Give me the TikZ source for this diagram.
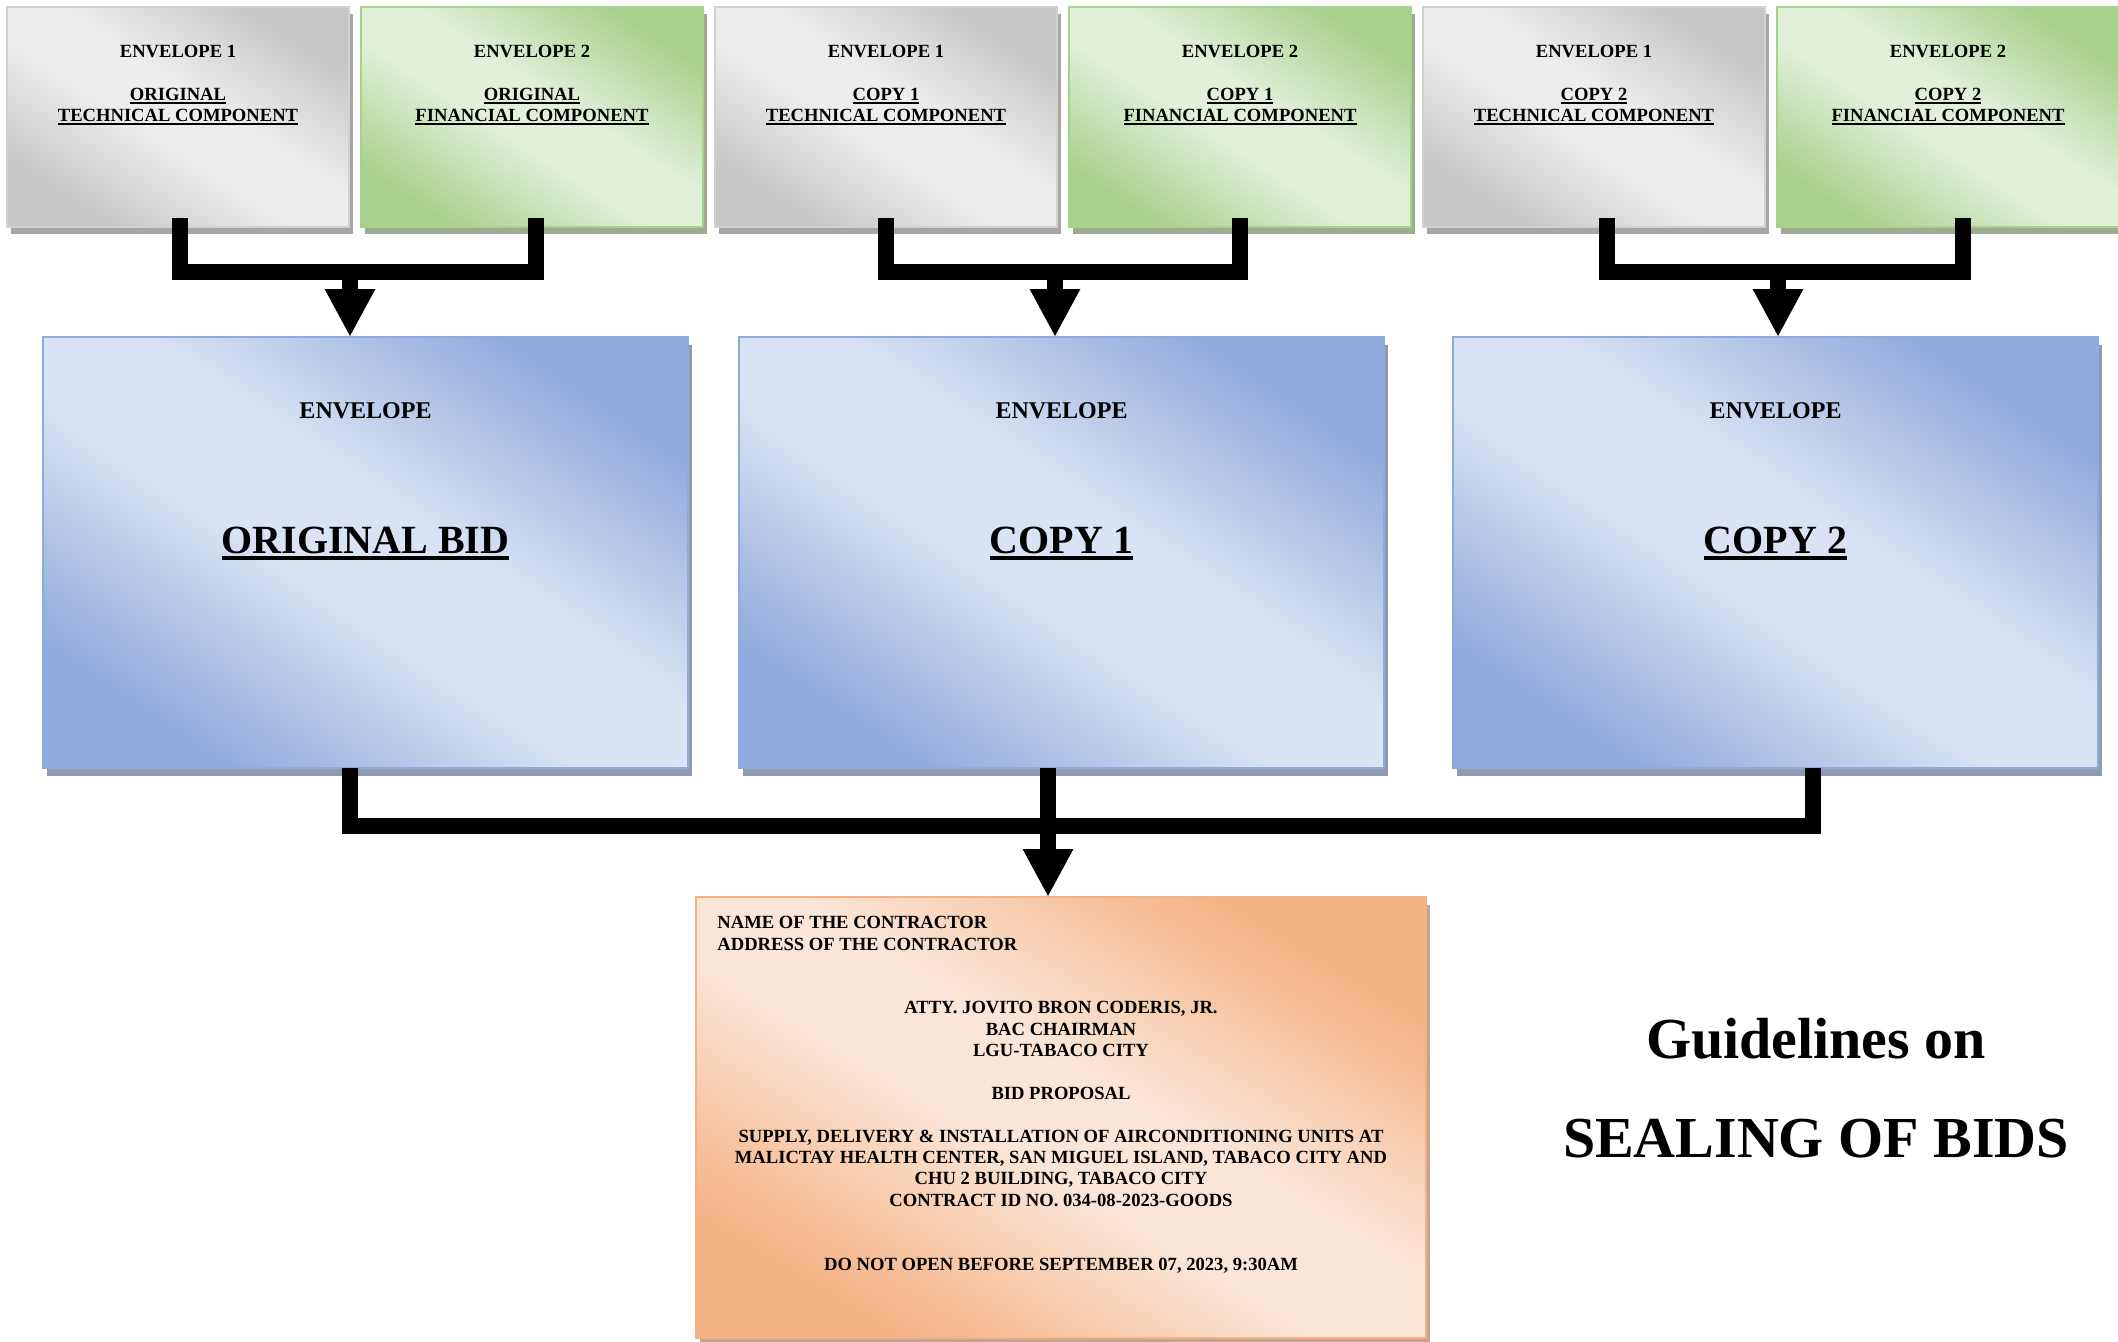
\documentclass[tikz,border=0pt]{standalone}
\usepackage{fontspec}
\setmainfont{Liberation Serif}
\usepackage{xcolor}
\usepackage{tikz}
\usetikzlibrary{positioning,calc,arrows.meta,shadows}

\definecolor{greydark}{HTML}{C6C6C6}
\definecolor{greylight}{HTML}{EDEDED}
\definecolor{greyshadow}{HTML}{A6A6A6}
\definecolor{greendark}{HTML}{A9D18E}
\definecolor{greenlight}{HTML}{E2F0D9}
\definecolor{greenshadow}{HTML}{9CAB92}
\definecolor{bluedark}{HTML}{8FAADC}
\definecolor{bluelight}{HTML}{DAE3F3}
\definecolor{blueshadow}{HTML}{8E9AB2}
\definecolor{orangedark}{HTML}{F4B183}
\definecolor{orangelight}{HTML}{FBE5D6}
\definecolor{orangeshadow}{HTML}{C4A48E}

\pgfdeclareverticalshading{greygrad}{100bp}{color(0bp)=(greydark); color(25bp)=(greydark); color(45bp)=(greylight); color(55bp)=(greylight); color(75bp)=(greydark); color(100bp)=(greydark)}
\pgfdeclareverticalshading{greengrad}{100bp}{color(0bp)=(greendark); color(25bp)=(greendark); color(45bp)=(greenlight); color(55bp)=(greenlight); color(75bp)=(greendark); color(100bp)=(greendark)}
\pgfdeclareverticalshading{bluegrad}{100bp}{color(0bp)=(bluedark); color(25bp)=(bluedark); color(45bp)=(bluelight); color(55bp)=(bluelight); color(75bp)=(bluedark); color(100bp)=(bluedark)}
\pgfdeclareverticalshading{orangegrad}{100bp}{color(0bp)=(orangedark); color(25bp)=(orangedark); color(45bp)=(orangelight); color(55bp)=(orangelight); color(75bp)=(orangedark); color(100bp)=(orangedark)}

\newcommand{\ulbar}[1]{\setbox0\hbox{#1}\rlap{\rule[-0.17em]{\wd0}{0.09em}}\box0}

\begin{document}
\begin{tikzpicture}[
            x=0.5pt, y=-0.5pt,
            envbox/.style={rectangle, minimum width=171pt, minimum height=110pt, inner sep=0pt, outer sep=0pt, line width=0.75pt},
            techbox/.style={envbox, draw=greydark!80, shade, shading=greygrad, shading angle=-33,
                drop shadow={shadow xshift=2pt, shadow yshift=-3.5pt, fill=greyshadow, opacity=1}},
            finbox/.style={envbox, draw=greendark, shade, shading=greengrad, shading angle=-33,
                drop shadow={shadow xshift=2pt, shadow yshift=-3.5pt, fill=greenshadow, opacity=1}},
            bidbox/.style={rectangle, minimum width=322.5pt, minimum height=215.5pt, inner sep=0pt, outer sep=0pt, line width=0.75pt,
                draw=bluedark, shade, shading=bluegrad, shading angle=-34,
                drop shadow={shadow xshift=2pt, shadow yshift=-3.75pt, fill=blueshadow, opacity=1}},
            sealbox/.style={rectangle, minimum width=365pt, minimum height=220.5pt, inner sep=0pt, outer sep=0pt, line width=0.75pt,
                draw=orangedark, shade, shading=orangegrad, shading angle=-31,
                drop shadow={shadow xshift=2pt, shadow yshift=-3.75pt, fill=orangeshadow, opacity=1}},
            boxtext/.style={font=\fontsize{9.3}{10.7}\selectfont\bfseries, align=center, inner sep=0pt, anchor=north},
            headtext/.style={font=\fontsize{12}{14}\selectfont\bfseries, inner sep=0pt, anchor=base},
            bidtext/.style={font=\fontsize{20}{24}\selectfont\bfseries, inner sep=0pt, anchor=base},
            titletext/.style={font=\fontsize{29}{49.5}\selectfont\bfseries, align=center, inner sep=0pt, anchor=north},
            bar/.style={line width=8pt, line join=miter, line cap=butt},
            bigarrow/.style={bar, -{Triangle[width=23.5pt, length=24pt]}}
        ]
            \useasboundingbox (0,0) rectangle (2118,1341);
            \fill[white] (0,0) rectangle (2118,1341);

            % Envelopes 1 and 2
            \node[techbox] (tech1) at (178,117) {};
            \node[finbox, right=6pt of tech1] (fin1) {};
            \node[techbox, right=6pt of fin1] (tech2) {};
            \node[finbox, right=6pt of tech2] (fin2) {};
            \node[techbox, right=6pt of fin2] (tech3) {};
            \node[finbox, right=6pt of tech3] (fin3) {};

            \node[boxtext, below=19pt of tech1.north] (tech1txt) {ENVELOPE 1\\[10.7pt]\ulbar{ORIGINAL}\\\ulbar{TECHNICAL COMPONENT}};
            \node[boxtext, below=19pt of fin1.north] (fin1txt) {ENVELOPE 2\\[10.7pt]\ulbar{ORIGINAL}\\\ulbar{FINANCIAL COMPONENT}};
            \node[boxtext, below=19pt of tech2.north] (tech2txt) {ENVELOPE 1\\[10.7pt]\ulbar{COPY 1}\\\ulbar{TECHNICAL COMPONENT}};
            \node[boxtext, below=19pt of fin2.north] (fin2txt) {ENVELOPE 2\\[10.7pt]\ulbar{COPY 1}\\\ulbar{FINANCIAL COMPONENT}};
            \node[boxtext, below=19pt of tech3.north] (tech3txt) {ENVELOPE 1\\[10.7pt]\ulbar{COPY 2}\\\ulbar{TECHNICAL COMPONENT}};
            \node[boxtext, below=19pt of fin3.north] (fin3txt) {ENVELOPE 2\\[10.7pt]\ulbar{COPY 2}\\\ulbar{FINANCIAL COMPONENT}};

            % Bid envelopes
            \node[bidbox] (bidorig) at (365.5,552.5) {};
            \node[bidbox, right=25.5pt of bidorig] (bidcopy1) {};
            \node[bidbox, right=34.5pt of bidcopy1] (bidcopy2) {};

            \node[headtext] (orighead) at ($(bidorig.north)+(0,81)$) {ENVELOPE};
            \node[bidtext] (origname) at ($(bidorig.north)+(0,216)$) {\ulbar{ORIGINAL BID}};
            \node[headtext] (copy1head) at ($(bidcopy1.north)+(0,81)$) {ENVELOPE};
            \node[bidtext] (copy1name) at ($(bidcopy1.north)+(0,216)$) {\ulbar{COPY 1}};
            \node[headtext] (copy2head) at ($(bidcopy2.north)+(0,81)$) {ENVELOPE};
            \node[bidtext] (copy2name) at ($(bidcopy2.north)+(0,216)$) {\ulbar{COPY 2}};

            % Outer envelope
            \node[sealbox] (seal) at (1061,1117.5) {};
            \node[boxtext, anchor=north west, align=left] (bidder) at ($(seal.north west)+(21,19)$) {NAME OF THE CONTRACTOR\\ADDRESS OF THE CONTRACTOR};
            \node[boxtext] (addressee) at ($(seal.north)+(0,104)$) {ATTY. JOVITO BRON CODERIS, JR.\\BAC CHAIRMAN\\LGU-TABACO CITY\\[10.7pt]
                BID PROPOSAL\\[10.7pt]
                SUPPLY, DELIVERY \& INSTALLATION OF AIRCONDITIONING UNITS AT\\
                MALICTAY HEALTH CENTER, SAN MIGUEL ISLAND, TABACO CITY AND\\
                CHU 2 BUILDING, TABACO CITY\\
                CONTRACT ID NO. 034-08-2023-GOODS\\[21.4pt]
                DO NOT OPEN BEFORE SEPTEMBER 07, 2023, 9:30AM};

            % Title
            \node[titletext] (title) at (1816,1018) {Guidelines on\\SEALING OF BIDS};

            % Connectors
            \coordinate (j1) at (350,272);
            \coordinate (j2) at (1055,272);
            \coordinate (j3) at (1778,272);
            \coordinate (j4) at (1048,826);

            \draw[bar] ([xshift=1pt,yshift=4.5pt]tech1.south) |- (j1) -| ([xshift=2pt,yshift=4.5pt]fin1.south);
            \draw[bar] ([yshift=4.5pt]tech2.south) |- (j2) -| ([yshift=4.5pt]fin2.south);
            \draw[bar] ([xshift=6.5pt,yshift=4.5pt]tech3.south) |- (j3) -| ([xshift=7.5pt,yshift=4.5pt]fin3.south);
            \draw[bigarrow] (j1) -- (j1 |- bidorig.north);
            \draw[bigarrow] (j2) -- (j2 |- bidcopy1.north);
            \draw[bigarrow] (j3) -- (j3 |- bidcopy2.north);

            \draw[bar] ([xshift=-7.75pt]bidorig.south) |- (j4) -| ([xshift=18.75pt]bidcopy2.south);
            \draw[bar] (bidcopy1.south -| j4) -- (j4);
            \draw[bigarrow] (j4) -- (j4 |- seal.north);
        \end{tikzpicture}
\end{document}
